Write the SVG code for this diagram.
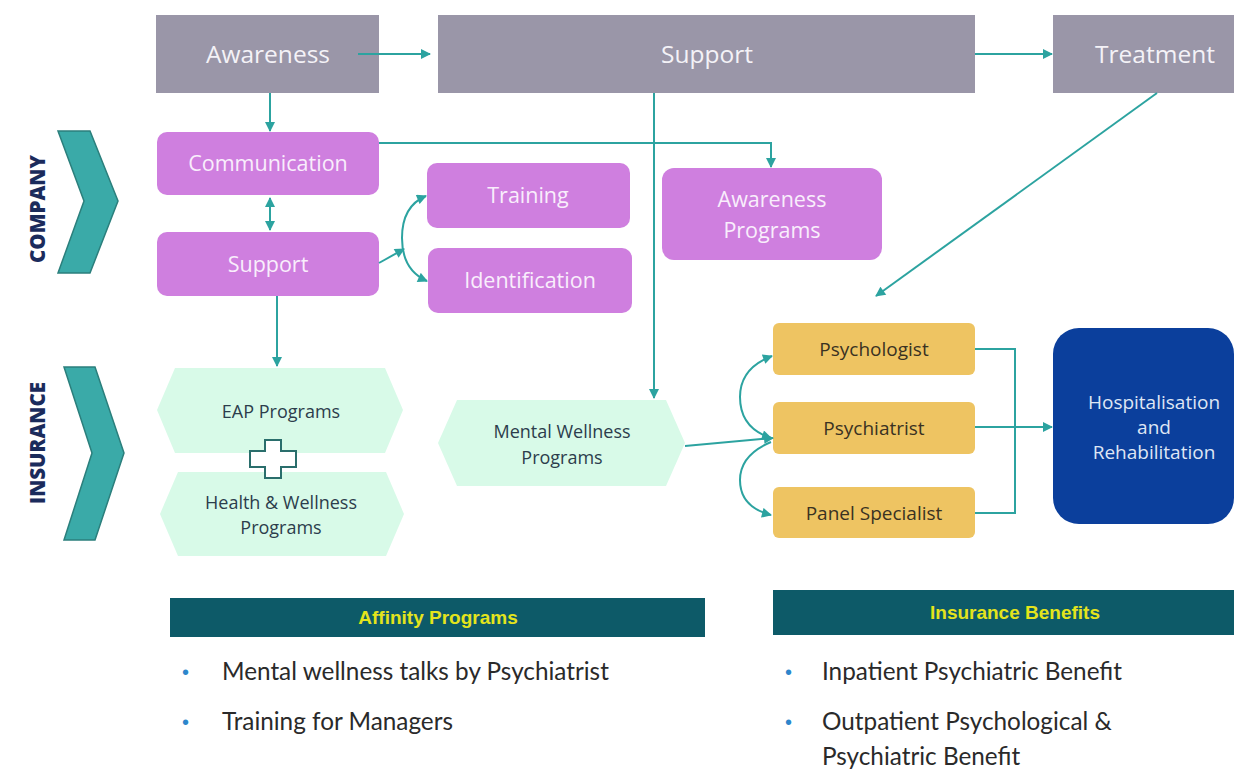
<svg xmlns="http://www.w3.org/2000/svg" width="1234" height="770" viewBox="0 0 1234 770">
  <style>
    .stage { fill: #9a96a8; }
    .stage-t { font-family: "Open Sans", "Liberation Sans", sans-serif; font-size: 24.5px; fill: #f4f2f7; text-anchor: middle; }
    .co { fill: #cf7fdf; }
    .co-t { font-family: "Open Sans", "Liberation Sans", sans-serif; font-size: 21.5px; fill: #f9eefc; text-anchor: middle; }
    .hosp-t { font-family: "Open Sans", "Liberation Sans", sans-serif; font-size: 19px; fill: #dfe6f4; text-anchor: middle; }
    .ins { fill: #d8fae8; }
    .ins-t { font-family: "Open Sans", "Liberation Sans", sans-serif; font-size: 18px; fill: #2c3d4c; text-anchor: middle; }
    .doc { fill: #eec462; }
    .doc-t { font-family: "Open Sans", "Liberation Sans", sans-serif; font-size: 19px; fill: #3a3222; text-anchor: middle; }
    .chev { fill: #3aaaa8; stroke: #2b7f7c; stroke-width: 1.5; }
    .side-t { font-family: "Open Sans", "Liberation Sans", sans-serif; font-size: 20.5px; font-weight: 800; fill: #1b2b5c; text-anchor: middle; }
    .banner { fill: #0d5a68; }
    .banner-t { font-family: "Liberation Sans Narrow", "Liberation Sans", sans-serif; font-size: 19px; font-weight: bold; fill: #e4e41c; text-anchor: middle; }
    .bul { font-family: "Liberation Sans", sans-serif; font-size: 20px; fill: #2d86cc; }
    .bt { font-family: "Lato", "Liberation Sans", sans-serif; font-size: 24.3px; fill: #2a2a2a; }
    .ln { fill: none; stroke: #2ca3a0; stroke-width: 2; }
    .arr { marker-end: url(#ah); }
    .both { marker-start: url(#ah); marker-end: url(#ah); }
  </style>
  <defs>
    <marker id="ah" viewBox="0 0 10 10" refX="9" refY="5" markerWidth="11" markerHeight="10" markerUnits="userSpaceOnUse" orient="auto-start-reverse">
      <path d="M0,0 L10,5 L0,10 Z" fill="#2ca3a0"/>
    </marker>
  </defs>

  <rect width="1234" height="770" fill="#ffffff"/>

  <!-- side labels -->
  <g id="company-label">
    <polygon class="chev" points="58,131 90,131 118,201 90,273 58,273 84,201"/>
    <text class="side-t" transform="translate(45,209) rotate(-90)">COMPANY</text>
  </g>
  <g id="insurance-label">
    <polygon class="chev" points="64,367 95,367 124,453 95,540 64,540 92,453"/>
    <text class="side-t" transform="translate(45,443) rotate(-90)">INSURANCE</text>
  </g>

  <!-- stages -->
  <g id="awareness">
    <rect class="stage" x="156" y="15" width="223" height="78"/>
    <text class="stage-t" x="268" y="63">Awareness</text>
  </g>
  <g id="support-stage">
    <rect class="stage" x="438" y="15" width="537" height="78"/>
    <text class="stage-t" x="707" y="63">Support</text>
  </g>
  <g id="treatment">
    <rect class="stage" x="1053" y="15" width="185" height="78"/>
    <text class="stage-t" x="1155" y="63">Treatment</text>
  </g>

  <!-- company nodes -->
  <g id="communication">
    <rect class="co" x="157" y="132" width="222" height="63" rx="10"/>
    <text class="co-t" x="268" y="171">Communication</text>
  </g>
  <g id="support">
    <rect class="co" x="157" y="232" width="222" height="64" rx="10"/>
    <text class="co-t" x="268" y="272">Support</text>
  </g>
  <g id="training">
    <rect class="co" x="427" y="163" width="203" height="65" rx="10"/>
    <text class="co-t" x="528" y="203">Training</text>
  </g>
  <g id="identification">
    <rect class="co" x="428" y="248" width="204" height="65" rx="10"/>
    <text class="co-t" x="530" y="288">Identification</text>
  </g>
  <g id="awareness-programs">
    <rect class="co" x="662" y="168" width="220" height="92" rx="12"/>
    <text class="co-t" x="772" y="207">Awareness</text>
    <text class="co-t" x="772" y="238">Programs</text>
  </g>

  <!-- insurance nodes -->
  <g id="eap">
    <polygon class="ins" points="157,410 175,368 385,368 403,410 385,453 175,453"/>
    <text class="ins-t" x="281" y="418">EAP Programs</text>
  </g>
  <g id="health-wellness">
    <polygon class="ins" points="160,514 178,472 386,472 404,514 386,556 178,556"/>
    <text class="ins-t" x="281" y="509">Health &amp; Wellness</text>
    <text class="ins-t" x="281" y="534">Programs</text>
  </g>
  <g id="plus">
    <path d="M265,440 H281 V451 H296 V467 H281 V478 H265 V467 H250 V451 H265 Z" fill="#ffffff" stroke="#2a6e6c" stroke-width="2"/>
  </g>
  <g id="mental-wellness">
    <polygon class="ins" points="438,443 457,400 666,400 685,443 666,486 457,486"/>
    <text class="ins-t" x="562" y="438">Mental Wellness</text>
    <text class="ins-t" x="562" y="464">Programs</text>
  </g>

  <!-- treatment nodes -->
  <g id="psychologist">
    <rect class="doc" x="773" y="323" width="202" height="52" rx="6"/>
    <text class="doc-t" x="874" y="356">Psychologist</text>
  </g>
  <g id="psychiatrist">
    <rect class="doc" x="773" y="402" width="202" height="52" rx="6"/>
    <text class="doc-t" x="874" y="435">Psychiatrist</text>
  </g>
  <g id="panel-specialist">
    <rect class="doc" x="773" y="487" width="202" height="51" rx="6"/>
    <text class="doc-t" x="874" y="520">Panel Specialist</text>
  </g>
  <g id="hospitalisation">
    <rect x="1053" y="328" width="181" height="196" rx="26" fill="#0b3f9c"/>
    <text class="hosp-t" x="1154" y="409">Hospitalisation</text>
    <text class="hosp-t" x="1154" y="434">and</text>
    <text class="hosp-t" x="1154" y="459">Rehabilitation</text>
  </g>

  <!-- connectors -->
  <g id="connectors">
    <path class="ln arr" d="M358,54 H430"/>
    <path class="ln arr" d="M975,54 H1052"/>
    <path class="ln arr" d="M270,93 V131"/>
    <path class="ln both" d="M270,198 V230"/>
    <path class="ln arr" d="M379,143 H771 V167"/>
    <path class="ln arr" d="M379,263 L404,249"/>
    <path class="ln both" d="M426,196 Q402,206 402,238 Q402,270 427,281"/>
    <path class="ln arr" d="M277,296 V366"/>
    <path class="ln arr" d="M654,93 V398"/>
    <path class="ln arr" d="M1157,93 L876,296"/>
    <path class="ln arr" d="M685,446 L773,438"/>
    <path class="ln both" d="M772,356 Q740,368 740,397 Q740,428 771,438"/>
    <path class="ln arr" d="M771,442 Q740,455 740,480 Q740,507 771,515"/>
    <path class="ln" d="M975,349 H1015 V513 H975"/>
    <path class="ln" d="M975,427 H1015" stroke-width="1"/>
    <path class="ln arr" d="M1015,427 H1052"/>
  </g>

  <!-- benefit lists -->
  <g id="affinity-programs">
    <rect class="banner" x="170" y="598" width="535" height="39"/>
    <text class="banner-t" x="438" y="624">Affinity Programs</text>
    <text class="bul" x="182" y="679">•</text>
    <text class="bt" x="222" y="680">Mental wellness talks by Psychiatrist</text>
    <text class="bul" x="182" y="729">•</text>
    <text class="bt" x="222" y="730">Training for Managers</text>
  </g>
  <g id="insurance-benefits">
    <rect class="banner" x="773" y="590" width="465" height="45"/>
    <text class="banner-t" x="1015" y="619">Insurance Benefits</text>
    <text class="bul" x="785" y="679">•</text>
    <text class="bt" x="822" y="680">Inpatient Psychiatric Benefit</text>
    <text class="bul" x="785" y="729">•</text>
    <text class="bt" x="822" y="730">Outpatient Psychological &amp;</text>
    <text class="bt" x="822" y="765">Psychiatric Benefit</text>
  </g>
</svg>
